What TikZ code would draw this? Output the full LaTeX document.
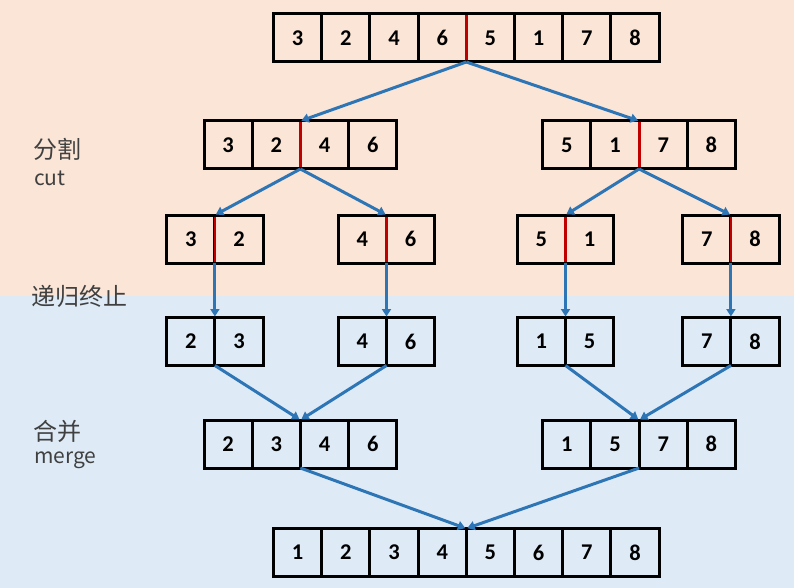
\documentclass[tikz,border=0pt]{standalone}
\usepackage{xcolor}
\usepackage{fontspec}
\setmainfont{Carlito}
\newfontfamily\cjk{Noto Sans CJK SC}
\usetikzlibrary{arrows.meta}
\definecolor{cutbg}{HTML}{FBE5D6}
\definecolor{mergebg}{HTML}{DEEBF7}
\definecolor{arrowblue}{HTML}{2E75B6}
\definecolor{splitred}{HTML}{C00000}
\definecolor{labelgray}{HTML}{404040}
\newcommand{\cw}{48.2}
\newcommand{\ch}{48}
\newcommand{\upcolor}{cutbg}
\newcommand{\downcolor}{mergebg}
% one row of cells: name, left x, centre y, values
\newcommand{\cellrow}[4]{%
    \foreach \v [count=\i] in {#4}
        \node[cell] (#1-\i) at ({#2+(\i-0.5)*\cw}, #3) {\v};}

\begin{document}
\begin{tikzpicture}[x=1pt, y=-1pt, >={Triangle[width=9pt,length=7.5pt]},
    cell/.style={draw, line width=3pt, minimum width=\cw pt, minimum height=\ch pt,
        inner sep=0pt, outer sep=0pt, font=\fontsize{22.5}{26}\selectfont\bfseries},
    link/.style={->, arrowblue, line width=3pt, shorten >=1pt},
    splitline/.style={splitred, line width=2.8pt, shorten <=1.5pt, shorten >=1.5pt},
    caption/.style={anchor=west, inner sep=0pt, labelgray, font=\cjk\fontsize{24}{28}\selectfont},
    latincap/.style={caption, anchor=base west, font=\cjk\fontsize{21}{25}\selectfont}]
        \fill[\upcolor] (0, 0) rectangle (794, 296);
        \fill[\downcolor] (0, 296) rectangle (794, 588);

        % cut
        \cellrow{top}{273.5}{38}{3, 2, 4, 6, 5, 1, 7, 8}
        \cellrow{cl}{204}{145}{3, 2, 4, 6}
        \cellrow{cr}{542.7}{145}{5, 1, 7, 8}
        \cellrow{sa}{166.7}{239}{3, 2}
        \cellrow{sb}{338.3}{239}{4, 6}
        \cellrow{sc}{517.3}{239}{5, 1}
        \cellrow{sd}{682.7}{239}{7, 8}
        % merge
        \cellrow{ma}{166.7}{341.5}{2, 3}
        \cellrow{mb}{338.3}{341.5}{4, 6}
        \cellrow{mc}{517.3}{341.5}{1, 5}
        \cellrow{md}{682.7}{341.5}{7, 8}
        \cellrow{ml}{204}{444}{2, 3, 4, 6}
        \cellrow{mr}{542.7}{444}{1, 5, 7, 8}
        \cellrow{out}{273.5}{552.5}{1, 2, 3, 4, 5, 6, 7, 8}

        % red dividing lines
        \foreach \n/\k in {top/4, cl/2, cr/2, sa/1, sb/1, sc/1, sd/1}
            \draw[splitline] (\n-\k.north east) -- (\n-\k.south east);

        \draw[link] (top-4.south east) -- (cl-2.north east);
        \draw[link] (top-4.south east) -- (cr-2.north east);
        \draw[link] (cl-2.south east) -- (sa-1.north east);
        \draw[link] (cl-2.south east) -- (sb-1.north east);
        \draw[link] (cr-2.south east) -- (sc-1.north east);
        \draw[link] (cr-2.south east) -- (sd-1.north east);
        \foreach \s/\m in {sa/ma, sb/mb, sc/mc, sd/md}
            \draw[link] (\s-1.south east) -- (\m-1.north east);
        \draw[link] (ma-1.south east) -- (ml-2.north east);
        \draw[link] (mb-1.south east) -- (ml-2.north east);
        \draw[link] (mc-1.south east) -- (mr-2.north east);
        \draw[link] (md-1.south east) -- (mr-2.north east);
        \draw[link] (ml-2.south east) -- (out-4.north east);
        \draw[link] (mr-2.south east) -- (out-4.north east);

        \node[caption] (cutcn) at (33, 149) {分割};
        \node[latincap] (cuten) at (34, 185) {cut};
        \node[caption] (stop) at (31, 296) {递归终止};
        \node[caption] (mergecn) at (33, 431) {合并};
        \node[latincap] (mergeen) at (34, 463) {merge};
\end{tikzpicture}
\end{document}
